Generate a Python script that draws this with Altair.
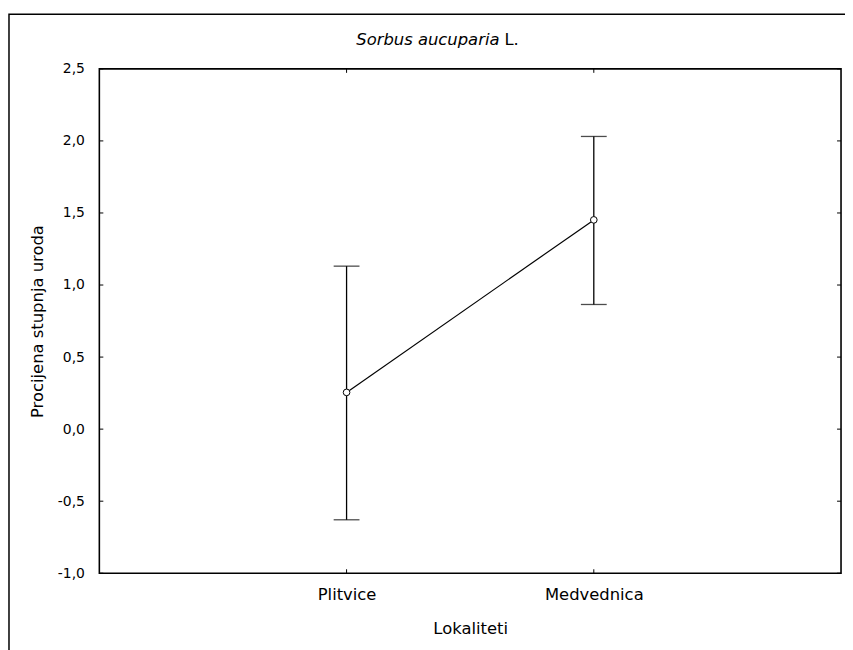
import altair as alt
import pandas as pd

# ---- data ----
categories = ["Plitvice", "Medvednica"]
means = [0.255, 1.452]
upper = [1.131, 2.031]
lower = [-0.629, 0.865]
y_ticks = [-1.0, -0.5, 0.0, 0.5, 1.0, 1.5, 2.0, 2.5]
title_italic = "Sorbus aucuparia"
title_rest = "L."
x_title = "Lokaliteti"
y_title = "Procijena stupnja uroda"

W, H = 747, 508
FONT = "DejaVu Sans"
FS_BIG = 16.5
FS_Y = 14

df = pd.DataFrame({"Lokaliteti": categories, "mean": means, "upper": upper, "lower": lower})
ticks_df = pd.DataFrame({"v": y_ticks})
one = pd.DataFrame({"a": [0]})

xscale = alt.Scale(type="point", padding=1, domain=categories)
yscale = alt.Scale(domain=[-1.0, 2.5], nice=False, zero=False)

xax = alt.Axis(title=x_title, labelPadding=13, titlePadding=18, labelAngle=0,
               labelFontSize=FS_BIG, titleFontSize=FS_BIG)
yax = alt.Axis(
    title=y_title,
    values=y_ticks,
    labelExpr="replace((datum.value < 0 ? '-' : '') + format(abs(datum.value), '.1f'), '.', ',')",
    labelPadding=15,
    titlePadding=12,
    labelFontSize=FS_Y,
    titleFontSize=FS_BIG,
)

X = alt.X("Lokaliteti:N", scale=xscale, sort=categories, axis=xax)

base = alt.Chart(df)

line = base.mark_line(color="black", strokeWidth=1.2).encode(
    x=X, y=alt.Y("mean:Q", scale=yscale, axis=yax)
)
bars = base.mark_rule(color="black", strokeWidth=1.3).encode(
    x=X, y=alt.Y("lower:Q", scale=yscale, axis=yax), y2="upper:Q"
)
cap_hi = base.mark_tick(color="black", size=26, thickness=1.3).encode(
    x=X, y=alt.Y("upper:Q", scale=yscale, axis=yax)
)
cap_lo = base.mark_tick(color="black", size=26, thickness=1.3).encode(
    x=X, y=alt.Y("lower:Q", scale=yscale, axis=yax)
)
pts = base.mark_point(filled=True, fill="white", stroke="black", strokeWidth=1, size=45, opacity=1).encode(
    x=X, y=alt.Y("mean:Q", scale=yscale, axis=yax)
)

# inward axis ticks (left/right on y values, bottom/top on categories)
tk = alt.Chart(ticks_df)
yt_left = tk.mark_rule(color="black", strokeWidth=1).encode(
    y=alt.Y("v:Q", scale=yscale, axis=yax), x=alt.value(0), x2=alt.value(4)
)
yt_right = tk.mark_rule(color="black", strokeWidth=1).encode(
    y=alt.Y("v:Q", scale=yscale, axis=yax), x=alt.value(W - 4), x2=alt.value(W)
)
xt_bottom = base.mark_rule(color="black", strokeWidth=1).encode(
    x=X, y=alt.value(H - 4), y2=alt.value(H)
)
xt_top = base.mark_rule(color="black", strokeWidth=1).encode(
    x=X, y=alt.value(0), y2=alt.value(4)
)

# outer figure frame
frame = alt.Chart(one).mark_rect(fillOpacity=0, stroke="black", strokeWidth=1.5).encode(
    x=alt.value(-91), x2=alt.value(W + 100), y=alt.value(-55), y2=alt.value(H + 150)
)

# title with italic species name
t1 = alt.Chart(one).mark_text(
    text=title_italic, font=FONT, fontSize=FS_BIG, fontStyle="italic", align="right", baseline="middle", color="black"
).encode(x=alt.value(403), y=alt.value(-29))
t2 = alt.Chart(one).mark_text(
    text=title_rest, font=FONT, fontSize=FS_BIG, align="left", baseline="middle", color="black"
).encode(x=alt.value(408), y=alt.value(-29))

chart = alt.layer(
    frame, bars, cap_hi, cap_lo, line, pts, yt_left, yt_right, xt_bottom, xt_top, t1, t2
).properties(
    width=W, height=H, autosize="none", background="white",
    padding={"left": 92, "top": 59, "right": 4, "bottom": 75},
).configure_view(
    stroke="black", strokeWidth=1.6
).configure_axis(
    grid=False, ticks=False, domain=False,
    labelFont=FONT, labelColor="black",
    titleFont=FONT, titleFontWeight="normal", titleColor="black",
)

chart.save("out.html", embed_options={"renderer": "svg", "actions": False})
